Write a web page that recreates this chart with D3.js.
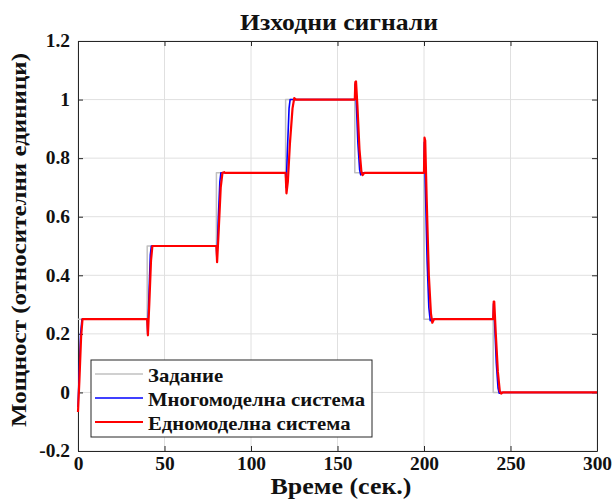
<!DOCTYPE html>
<html>
<head>
<meta charset="utf-8">
<script src="https://cdn.jsdelivr.net/npm/d3@7"></script>
<style>
  body { margin: 0; background: #fff; }
</style>
</head>
<body>
<div id="chart"></div>
<script>
const width = 612
const height = 501
const margin = { top: 41, right: 15, bottom: 50, left: 78 }
const serif = "'Liberation Serif', 'Times New Roman', Times, serif"

const xTicks = [0, 50, 100, 150, 200, 250, 300]
const yTicks = [-0.2, 0, 0.2, 0.4, 0.6, 0.8, 1, 1.2]

const seriesNames = ["Задание", "Многомоделна система", "Едномоделна система"]

// setpoint
const refT = [0, 40, 40, 80, 80, 120, 120, 160, 160, 200, 200, 240, 240, 300]
const refV = [0.25, 0.25, 0.5, 0.5, 0.75, 0.75, 1, 1, 0.75, 0.75, 0.25, 0.25, 0, 0]

// multi-model system
const multiT = [0, 0.6, 1.5, 2.3, 40, 40.3, 41, 41.8, 42.4, 80, 80.3, 81, 82, 82.6,
  120, 120.3, 121, 122, 122.6, 123.5, 160, 160.2, 160.8, 161.8, 162.8, 163.4, 164.2,
  200, 200.2, 200.8, 201.8, 202.8, 203.6, 204.4, 240, 240.2, 240.8, 241.8, 242.8, 243.5, 244.5, 300]
const multiV = [-0.05, 0.05, 0.2, 0.25, 0.25, 0.2, 0.33, 0.47, 0.5, 0.5, 0.45, 0.58, 0.72, 0.75,
  0.75, 0.7, 0.82, 0.97, 1.0, 1.0, 1.0, 1.053, 1.0, 0.85, 0.76, 0.743, 0.75,
  0.75, 0.854, 0.7, 0.45, 0.29, 0.245, 0.25, 0.25, 0.303, 0.24, 0.1, 0.015, -0.003, 0, 0]

// single-model system
const singleT = [0, 0.8, 1.8, 2.6, 40, 40.4, 41.2, 42.2, 43, 80, 80.4, 81.3, 82.5, 83.5, 84.5, 85,
  120, 120.5, 121.3, 122.5, 124, 125, 126, 160, 160.3, 160.7, 161.5, 162.7, 163.8, 164.5, 165.5,
  200, 200.3, 200.7, 201.6, 202.8, 204, 204.8, 205.8, 240, 240.3, 240.6, 241.5, 242.7, 243.8, 244.6, 245.5, 300]
const singleV = [-0.067, 0.04, 0.19, 0.25, 0.25, 0.195, 0.3, 0.45, 0.5, 0.5, 0.445, 0.55, 0.7, 0.75, 0.752, 0.75,
  0.75, 0.68, 0.72, 0.85, 0.97, 1.005, 1.0, 1.0, 1.06, 1.062, 0.98, 0.83, 0.755, 0.742, 0.75,
  0.75, 0.87, 0.86, 0.65, 0.4, 0.27, 0.238, 0.25, 0.25, 0.31, 0.31, 0.2, 0.07, 0.005, -0.004, 0, 0]

const colors = ["#c0c0c0", "#0000ff", "#ff0000"]
const widths = [1.5, 1.6, 2.2]

const series = [
  refT.map((t, i) => [t, refV[i]]),
  multiT.map((t, i) => [t, multiV[i]]),
  singleT.map((t, i) => [t, singleV[i]])
]

const innerW = width - margin.left - margin.right
const innerH = height - margin.top - margin.bottom

const x = d3.scaleLinear().domain([0, 300]).range([0, innerW])
const y = d3.scaleLinear().domain([-0.2, 1.2]).range([innerH, 0])

// the original glyphs are a bit wider than Liberation Serif
const stretch = (sel, k) => sel.each(function () {
  const w = this.getComputedTextLength()
  d3.select(this).attr("textLength", w * k).attr("lengthAdjust", "spacingAndGlyphs")
})

const svg = d3.select("#chart").append("svg")
  .attr("width", width)
  .attr("height", height)
  .attr("font-family", serif)
  .attr("font-weight", "bold")

const g = svg.append("g").attr("transform", `translate(${margin.left},${margin.top})`)

// grid
g.append("g").selectAll("line").data(xTicks).join("line")
  .attr("x1", d => x(d)).attr("x2", d => x(d))
  .attr("y1", 0).attr("y2", innerH)
  .attr("stroke", "#e0e0e0").attr("stroke-width", 1)
g.append("g").selectAll("line").data(yTicks).join("line")
  .attr("y1", d => y(d)).attr("y2", d => y(d))
  .attr("x1", 0).attr("x2", innerW)
  .attr("stroke", "#e0e0e0").attr("stroke-width", 1)

const fmt = d => String(+d.toFixed(1))

const styleAxis = (sel) => {
  sel.attr("font-family", serif).attr("font-size", 18).attr("font-weight", "bold")
  sel.select(".domain").attr("stroke", "#262626")
  sel.selectAll(".tick line").attr("stroke", "#262626")
  sel.selectAll("text").attr("fill", "#111").call(stretch, 1.08)
}

g.append("g").attr("transform", `translate(0,${innerH})`)
  .call(d3.axisBottom(x).tickValues(xTicks).tickFormat(fmt).tickSizeInner(-5).tickSizeOuter(0).tickPadding(6))
  .call(styleAxis)
g.append("g")
  .call(d3.axisTop(x).tickValues(xTicks).tickFormat("").tickSizeInner(-5).tickSizeOuter(0))
  .call(styleAxis)
g.append("g")
  .call(d3.axisLeft(y).tickValues(yTicks).tickFormat(fmt).tickSizeInner(-5).tickSizeOuter(0).tickPadding(8))
  .call(styleAxis)
g.append("g").attr("transform", `translate(${innerW},0)`)
  .call(d3.axisRight(y).tickValues(yTicks).tickFormat("").tickSizeInner(-5).tickSizeOuter(0))
  .call(styleAxis)

// lines
const line = d3.line().x(d => x(d[0])).y(d => y(d[1]))
g.append("g").selectAll("path").data(series).join("path")
  .attr("d", line)
  .attr("fill", "none")
  .attr("stroke", (d, i) => colors[i])
  .attr("stroke-width", (d, i) => widths[i])
  .attr("stroke-linejoin", "round")

// titles
svg.append("text")
  .attr("x", 339).attr("y", 30)
  .attr("text-anchor", "middle")
  .attr("font-size", 24)
  .attr("fill", "#111")
  .text("Изходни сигнали")
  .attr("textLength", 198).attr("lengthAdjust", "spacingAndGlyphs")
svg.append("text")
  .attr("x", 341).attr("y", 494)
  .attr("text-anchor", "middle")
  .attr("font-size", 24)
  .attr("fill", "#111")
  .text("Време (сек.)")
  .attr("textLength", 141).attr("lengthAdjust", "spacingAndGlyphs")
svg.append("text")
  .attr("transform", "translate(26,240) rotate(-90)")
  .attr("text-anchor", "middle")
  .attr("font-size", 22)
  .attr("fill", "#111")
  .text("Мощност (относителни единици)")
  .attr("textLength", 374).attr("lengthAdjust", "spacingAndGlyphs")

// legend
const legend = svg.append("g").attr("transform", "translate(91,360)")
legend.append("rect")
  .attr("width", 281).attr("height", 77)
  .attr("fill", "#fff").attr("stroke", "#262626").attr("stroke-width", 1)
const rows = legend.selectAll("g").data(seriesNames).join("g")
  .attr("transform", (d, i) => `translate(0,${14 + i * 24})`)
rows.append("line")
  .attr("x1", 4).attr("x2", 52)
  .attr("stroke", (d, i) => colors[i])
  .attr("stroke-width", (d, i) => widths[i])
rows.append("text")
  .attr("x", 57).attr("y", 7.5)
  .attr("font-size", 19)
  .attr("fill", "#111")
  .text(d => d)
  .call(stretch, 1.09)
</script>
</body>
</html>
